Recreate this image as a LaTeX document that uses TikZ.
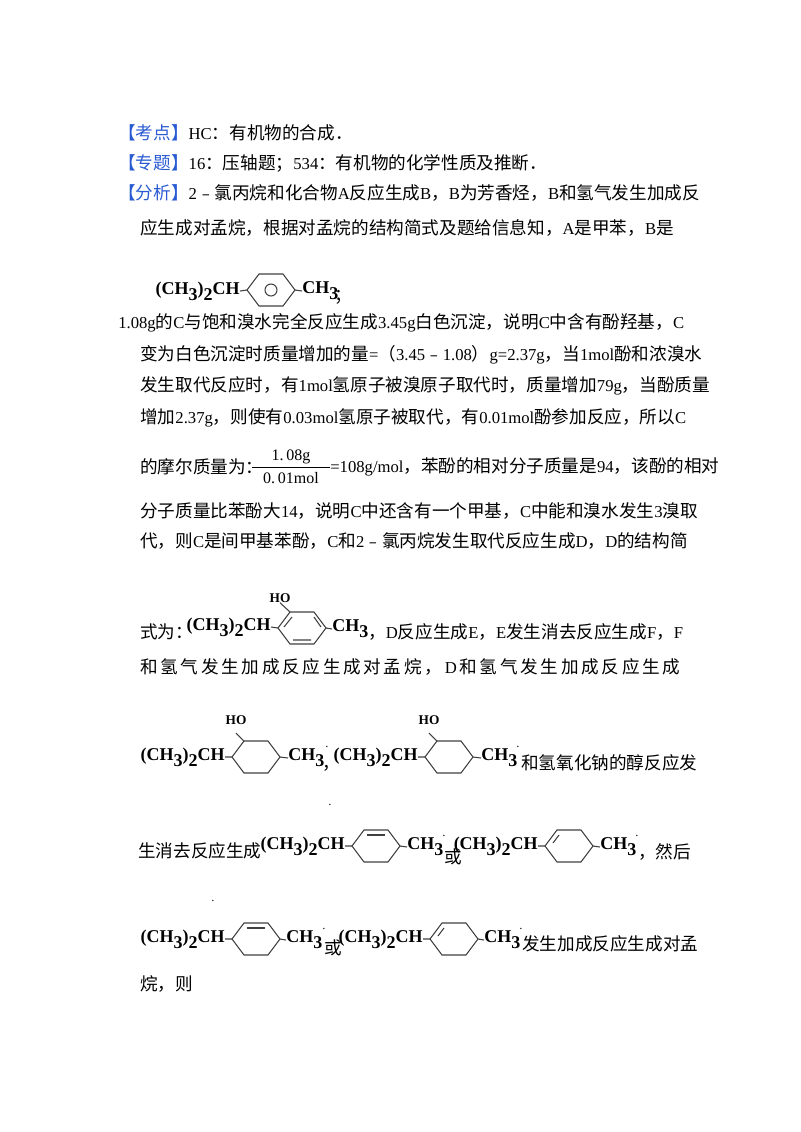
\documentclass[tikz,border=0pt]{standalone}
\usepackage{fontspec}
\setmainfont{Noto Sans CJK SC}
\newfontfamily\tm{Liberation Serif}
\XeTeXlinebreaklocale "zh"
\XeTeXlinebreakskip=0pt plus 2pt
\definecolor{hd}{RGB}{40,90,210}
\newcommand\La[1]{{\tm\fontsize{12.5pt}{15pt}\selectfont #1}}
\newcommand\fml{{\tm\bfseries\fontsize{13.5pt}{13pt}\selectfont (CH\raisebox{-0.7ex}{3})\raisebox{-0.7ex}{2}CH}}
\newcommand\mth{{\tm\bfseries\fontsize{13.5pt}{13pt}\selectfont CH\raisebox{-0.7ex}{3}}}
\newcommand\hexr[4]{% x, y, name, kind
 \begin{scope}[shift={(#1,#2)}]
 \coordinate (#3L) at (0,0); \coordinate (#3R) at (48,0); \coordinate (#3U) at (12,-16);
 \draw[ring] (0,0) -- (12,-16) -- (36,-16) -- (48,0) -- (36,16) -- (12,16) -- cycle;
 \ifcase#4\relax
 \or \draw[ring] (24,0) circle (6);
 \or \draw[ring] (15,12)--(33,12) (36,-11)--(43,-1) (6,-1)--(14,-11);
 \or \draw[ring] (15,-11)--(33,-11);
 \or \draw[ring] (8,-3)--(14,-11);
 \fi
 \end{scope}}
\begin{document}
\begin{tikzpicture}[x=0.75pt,y=-0.75pt,
 txt/.style={anchor=west,inner sep=0pt,font=\fontsize{13.2pt}{15pt}\selectfont},
 ring/.style={line width=0.8pt,black!75},
 grp/.style={anchor=east,inner sep=0pt},
 me/.style={anchor=west,inner sep=0pt}]
\path[use as bounding box] (0,0) rectangle (800,1132);
\node[txt] (l1) at (118,133) {\textcolor{hd}{【考点】}\La{HC}：有机物的合成．};
\node[txt] (l2) at (118,163) {\textcolor{hd}{【专题】}\La{16}：压轴题；\La{534}：有机物的化学性质及推断．};
\node[txt] (l3) at (118,193) {\makebox[420pt][s]{\textcolor{hd}{【分析】}\La{2}﹣氯丙烷和化合物\La{A}反应生成\La{B}，\La{B}为芳香烃，\La{B}和氢气发生加成反}};
\node[txt] (l4) at (140,228) {\makebox[405pt][s]{应生成对孟烷，根据对孟烷的结构简式及题给信息知，\La{A}是甲苯，\La{B}是}};
% S1
\hexr{247}{290}{a}{1}
\node[grp] (ga) at (240,291) {\fml};
\node[me] (ma) at (302,291) {\mth};
\draw[ring] (ga.east) -- (aL) (aR) -- (ma.west);
\node[txt] (sc) at (334,297) {；};
\node[txt] (l5) at (118,323) {\makebox[421.5pt][s]{\La{1.08g}的\La{C}与饱和溴水完全反应生成\La{3.45g}白色沉淀，说明\La{C}中含有酚羟基，\La{C}}};
\node[txt] (l6) at (140,355) {\makebox[405pt][s]{变为白色沉淀时质量增加的量\La{=}（\La{3.45}﹣\La{1.08}）\La{g=2.37g}，当\La{1mol}酚和浓溴水}};
\node[txt] (l7) at (140,386) {\makebox[405pt][s]{发生取代反应时，有\La{1mol}氢原子被溴原子取代时，质量增加\La{79g}，当酚质量}};
\node[txt] (l8) at (140,418) {\makebox[405pt][s]{增加\La{2.37g}，则使有\La{0.03mol}氢原子被取代，有\La{0.01mol}酚参加反应，所以\La{C}}};
\node[txt] (l9) at (140,467) {的摩尔质量为：};
\node[txt] (fr) at (252,467) {$\vcenter{\hbox{\tm\fontsize{12pt}{12pt}\selectfont\shortstack{1.\,08g\\[-1pt]\rule{58pt}{0.5pt}\\[1pt]0.\,01mol}}}$};
\node[txt] (l9b) at (330,467) {\makebox[262pt][s]{\La{=108g/mol}，苯酚的相对分子质量是\La{94}，该酚的相对}};
\node[txt] (l10) at (140,511) {\makebox[405pt][s]{分子质量比苯酚大\La{14}，说明\La{C}中还含有一个甲基，\La{C}中能和溴水发生\La{3}溴取}};
\node[txt] (l11) at (140,541) {\makebox[405pt][s]{代，则\La{C}是间甲基苯酚，\La{C}和\La{2}﹣氯丙烷发生取代反应生成\La{D}，\La{D}的结构简}};
% D
\node[txt] (l12) at (140,632) {式为：};
\hexr{278}{628}{d}{2}
\node[grp] (gd) at (271,627) {\fml};
\node[me] (md) at (332,629) {\mth};
\node[inner sep=0pt] (hd1) at (280,598) {\tm\bfseries HO};
\draw[ring] (gd.east) -- (dL) (dR) -- (md.west) (dU) -- (hd1.south);
\node[txt] (l12b) at (368,632) {\makebox[234pt][s]{，\La{D}反应生成\La{E}，\La{E}发生消去反应生成\La{F}，\La{F}}};
\node[txt] (l13) at (140,667) {\makebox[405pt][s]{和\hfil 氢\hfil 气\hfil 发\hfil 生\hfil 加\hfil 成\hfil 反\hfil 应\hfil 生\hfil 成\hfil 对\hfil 孟\hfil 烷\hfil ，\hfil \La{D}\hfil 和\hfil 氢\hfil 气\hfil 发\hfil 生\hfil 加\hfil 成\hfil 反\hfil 应\hfil 生\hfil 成}};
% two cyclohexanols
\hexr{232}{757}{e}{0}
\node[grp] (ge) at (225,757) {\fml};
\node[me] (mE) at (288,758) {\mth};
\node[inner sep=0pt] (he) at (236,720) {\tm\bfseries HO};
\draw[ring] (ge.east) -- (eL) (eR) -- (mE.west) (eU) -- ++(-8,-8);
\node[inner sep=0pt] (de) at (327,748) {\tiny·};
\node[txt] (cm) at (322,768) {，};
\hexr{425}{757}{f}{0}
\node[grp] (gf) at (418,757) {\fml};
\node[me] (mf) at (481,758) {\mth};
\node[inner sep=0pt] (hf) at (429,720) {\tm\bfseries HO};
\draw[ring] (gf.east) -- (fL) (fR) -- (mf.west) (fU) -- ++(-8,-8);
\node[inner sep=0pt] (df) at (518,748) {\tiny·};
\node[txt] (l14) at (521,763) {\makebox[119pt][s]{和氢氧化钠的醇反应发}};
\node[inner sep=0pt] (dot1) at (330,806) {\tiny·};
% F candidates
\node[txt] (l15) at (138,851) {生消去反应生成};
\hexr{352}{846}{g}{3}
\node[grp] (gg) at (345,846) {\fml};
\node[me] (mg) at (407,847) {\mth};
\draw[ring] (gg.east) -- (gL) (gR) -- (mg.west);
\node[inner sep=0pt] (dg) at (444,837) {\tiny·};
\node[txt] (or1) at (444,857) {或};
\hexr{545}{846}{h}{4}
\node[grp] (gh) at (538,846) {\fml};
\node[me] (mh) at (600,847) {\mth};
\draw[ring] (gh.east) -- (hL) (hR) -- (mh.west);
\node[inner sep=0pt] (dh) at (637,837) {\tiny·};
\node[txt] (l15b) at (638,852) {，然后};
\node[inner sep=0pt] (dot2) at (213,902) {\tiny·};
\hexr{232}{939}{i}{3}
\node[grp] (gi) at (225,939) {\fml};
\node[me] (mi) at (286,940) {\mth};
\draw[ring] (gi.east) -- (iL) (iR) -- (mi.west);
\node[inner sep=0pt] (di) at (324,930) {\tiny·};
\node[txt] (or2) at (324,948) {或};
\hexr{430}{939}{j}{4}
\node[grp] (gj) at (423,939) {\fml};
\node[me] (mj) at (484,940) {\mth};
\draw[ring] (gj.east) -- (jL) (jR) -- (mj.west);
\node[inner sep=0pt] (dj) at (521,930) {\tiny·};
\node[txt] (l16) at (522,944) {\makebox[119pt][s]{发生加成反应生成对孟}};
\node[txt] (l17) at (140,984) {烷，则};
\end{tikzpicture}
\end{document}
